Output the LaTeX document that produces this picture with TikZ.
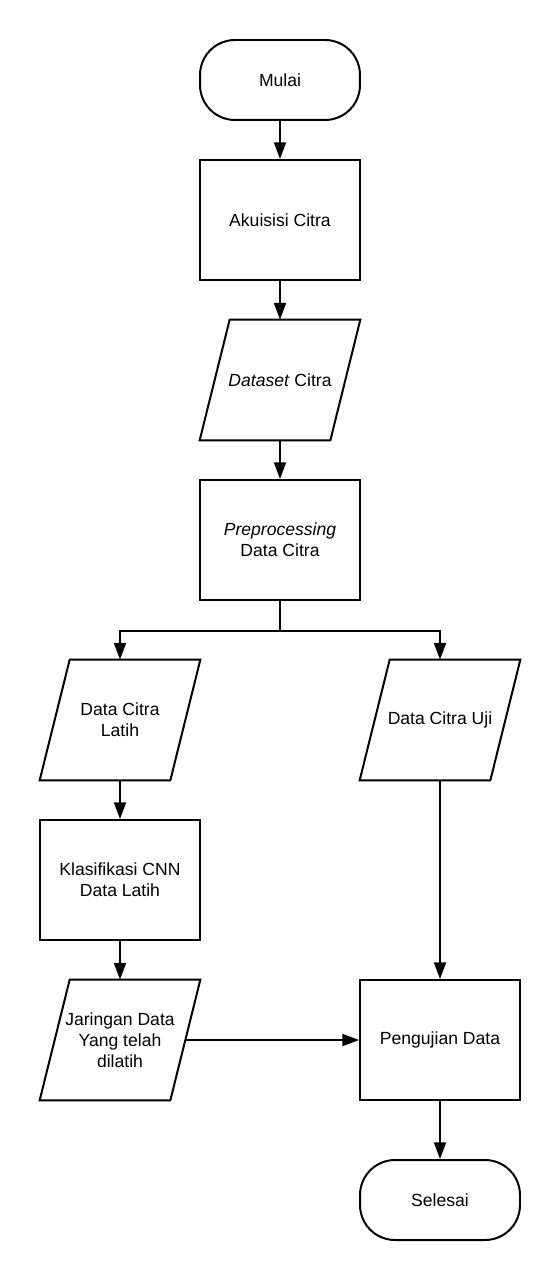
\documentclass[tikz,border=0pt]{standalone}
\usepackage{fontspec}
\setmainfont{Liberation Sans}
\usetikzlibrary{arrows.meta,calc}
\begin{document}
\begin{tikzpicture}[x=0.02cm,y=-0.02cm,
  every node/.style={font=\fontsize{10}{12}\selectfont, align=center, inner sep=0pt},
  lw/.style={line width=1.13pt},
  procbox/.style={draw, lw, minimum width=3.2cm, minimum height=2.4cm},
  termbox/.style={draw, lw, minimum width=3.2cm, minimum height=1.6cm, rounded corners=0.7cm},
  iobox/.style={minimum width=2.6cm, minimum height=2.4cm},
  conn/.style={lw, -{Triangle[length=9.5pt,width=6.8pt]}}
]
\useasboundingbox (0,0) rectangle (560,1280);
\node[termbox] (mulai) at (280,80) {Mulai};
\node[procbox] (akuisisi) at (280,220) {Akuisisi Citra};
\node[iobox] (ds) at (280,380) {\textit{Dataset} Citra};
\node[procbox] (pre) at (280,540) {\textit{Preprocessing}\\Data Citra};
\node[iobox] (latih) at (120,720) {Data Citra\\Latih};
\node[iobox] (uji) at (440,720) {Data Citra Uji};
\node[procbox] (klas) at (120,880) {Klasifikasi CNN\\Data Latih};
\node[iobox] (jar) at (120,1040) {Jaringan Data\\Yang telah\\dilatih};
\node[procbox] (peng) at (440,1040) {Pengujian Data};
\node[termbox] (selesai) at (440,1200) {Selesai};
\foreach \n in {ds,latih,uji,jar}
  \draw[lw] ($(\n.north west)+(15,0)$) -- ($(\n.north east)+(15,0)$) -- ($(\n.south east)+(-15,0)$) -- ($(\n.south west)+(-15,0)$) -- cycle;
\coordinate (split) at ($(pre.south)+(0,30)$);
\draw[conn] (mulai) -- (akuisisi);
\draw[conn] (akuisisi) -- (ds);
\draw[conn] (ds) -- (pre);
\draw[lw] (pre.south) -- (split);
\draw[conn] (split) -| (latih.north);
\draw[conn] (split) -| (uji.north);
\draw[conn] (latih) -- (klas);
\draw[conn] (klas) -- (jar);
\draw[conn] (uji) -- (peng);
\draw[conn] (jar) -- (peng);
\draw[conn] (peng) -- (selesai);
\end{tikzpicture}
\end{document}
